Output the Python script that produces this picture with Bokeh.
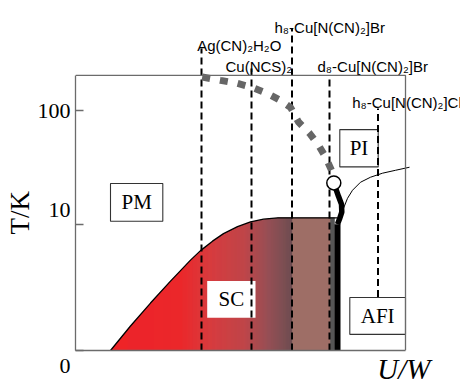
import math
import numpy as np
from bokeh.plotting import figure
from bokeh.models import Range1d, FixedTicker, Title
from bokeh.core.properties import value
from bokeh.embed import file_html
from bokeh.resources import INLINE

# ---------------- data (U/W in arbitrary units, T in K on a log scale) ----------------
T_FLOOR = 0.7936          # drawn as the "0" of the temperature axis
T_FRAME_TOP = 202.0
T_CANVAS_TOP = 913.0
UW_FRAME_END = 330.0

y_ticks = [T_FLOOR, 10, 100]
y_tick_labels = ["\n0", "10\n", "100"]

materials = ["Ag(CN)₂H₂O", "Cu(NCS)₂", "h₈-Cu[N(CN)₂]Br", "d₈-Cu[N(CN)₂]Br", "h₈-Cu[N(CN)₂]Cl"]
material_uw = [126, 176, 216.5, 254, 302.5]
material_line_top = [348, 239, 520, 202, 104]
material_line_bottom = [T_FLOOR, T_FLOOR, T_FLOOR, T_FLOOR, 2.33]
material_label_uw = [121.7, 150, 199, 242, 276.7]
material_label_t = [369.6, 243.8, 534, 243.8, 116.7]

# superconducting dome (Tc)
dome_uw = [35, 55, 75, 95, 115, 125, 137, 148, 162, 175, 188, 202, 262]
dome_tc = [T_FLOOR, 1.299, 2.063, 3.211, 4.898, 5.929, 7.177, 8.345, 9.605, 10.58, 11.17, 11.47, 11.47]
sc_gradient_end = 217
sc_band_end = 255
sc_edge_end = 259

# metal-insulator crossover (dotted)
cross_uw = [126.7, 145, 161.7, 176.7, 191.7, 205, 215, 223, 234, 243, 250, 256, 258.3]
cross_t = [195.4, 182.8, 172.1, 158.8, 140.8, 122.3, 106.2, 79.1, 63.0, 49.5, 39.1, 29.9, 23.2]

# first-order Mott transition line
mott_uw = [258.3, 263, 266, 266.3, 264, 262]
mott_t = [23.2, 17.7, 15.1, 12.9, 11.2, 10.1]
mott_vertical_uw = 262
mott_vertical_bottom = 0.77

# critical end point
cep_uw = [258.3]
cep_t = [23.2]

# Neel line
neel_uw = [264, 268, 272, 277, 285, 295, 307, 320, 334]
neel_t = [10.5, 13.9, 17.0, 20.0, 23.5, 26.0, 28.2, 29.9, 31.8]

# phase boxes
phase_names = ["PM", "SC", "PI", "AFI"]
box_left = [35, 131.7, 264.3, 274.3]
box_right = [87.3, 180, 302.7, 330]
box_bottom = [10.7, 1.535, 32.0, 1.099]
box_top = [22.9, 3.21, 67.8, 2.31]
box_border = ["#333333", None, "#333333", "#333333"]

# gradient colour stops of the SC region
grad_stop_uw = [35, 105, 135, 170, 193, 217]
grad_stop_rgb = [(238, 34, 39), (236, 38, 41), (215, 58, 61), (190, 68, 72), (150, 78, 84), (108, 76, 80)]
sc_band_color = "#9E6E66"
sc_edge_color = "#555555"

SERIF = "Liberation Serif"
SANS = "Liberation Sans"
FRAME = "#6b6b6b"

# ---------------- figure ----------------
p = figure(width=460, height=385, x_range=Range1d(0, 385),
           y_range=Range1d(T_FLOOR, T_CANVAS_TOP), y_axis_type="log",
           output_backend="svg", toolbar_location=None,
           min_border_left=75, min_border_right=0, min_border_top=0, min_border_bottom=35)
p.grid.visible = False
p.outline_line_color = None
p.background_fill_color = "white"
p.border_fill_color = "white"

# y axis
p.yaxis.ticker = FixedTicker(ticks=y_ticks)
p.yaxis.major_label_overrides = dict(zip(y_ticks, y_tick_labels))
p.yaxis.bounds = (T_FLOOR, T_FRAME_TOP)
p.yaxis.axis_line_color = FRAME
p.yaxis.axis_line_width = 1.3
p.yaxis.major_tick_line_color = FRAME
p.yaxis.major_tick_line_width = 1.3
p.yaxis.major_tick_in = 8
p.yaxis.major_tick_out = 0
p.yaxis.minor_tick_line_color = None
p.yaxis.major_label_standoff = 5
p.yaxis.major_label_text_font = SERIF
p.yaxis.major_label_text_font_size = "22px"
p.yaxis.major_label_text_color = "black"

# x axis
p.xaxis.ticker = FixedTicker(ticks=[])
p.xaxis.bounds = (0, UW_FRAME_END)
p.xaxis.axis_line_color = FRAME
p.xaxis.axis_line_width = 1.3
p.xaxis.major_tick_in = 0
p.xaxis.major_tick_out = 0
p.xaxis.minor_tick_line_color = None
p.xaxis.major_label_text_font_size = "0px"

# axis titles (as side titles so they can be placed like the original)
p.add_layout(Title(text="T/K", align="left", offset=116, standoff=0, vertical_align="bottom",
                   text_font=SERIF, text_font_size="27px", text_font_style="normal",
                   text_color="black"), "left")
p.add_layout(Title(text="U/W", align="right", offset=30, standoff=0, vertical_align="bottom",
                   text_font=SERIF, text_font_size="29px", text_font_style="italic",
                   text_color="black"), "below")

# SC gradient
edges = np.linspace(grad_stop_uw[0], grad_stop_uw[-1], 2 * (grad_stop_uw[-1] - grad_stop_uw[0]) + 1)
mids = (edges[:-1] + edges[1:]) / 2
cols = []
for m in mids:
    rgb = [int(round(np.interp(m, grad_stop_uw, [c[k] for c in grad_stop_rgb]))) for k in range(3)]
    cols.append("#%02x%02x%02x" % tuple(rgb))
plateau = dome_tc[-1]
p.quad(left=edges[:-1], right=edges[1:], bottom=T_FLOOR, top=plateau,
       fill_color=cols, line_color=cols, line_width=0.6)
p.quad(left=[sc_gradient_end], right=[sc_band_end], bottom=T_FLOOR, top=plateau,
       fill_color=sc_band_color, line_color=sc_band_color, line_width=0.6)
p.quad(left=[sc_band_end], right=[sc_edge_end], bottom=T_FLOOR, top=plateau,
       fill_color=sc_edge_color, line_color=sc_edge_color, line_width=0.6)

# white mask above the dome rise
n_rise = 12
mask_x = dome_uw[:n_rise] + [dome_uw[n_rise - 1], dome_uw[0] - 3, dome_uw[0] - 3]
mask_y = dome_tc[:n_rise] + [plateau * 1.05, plateau * 1.05, T_FLOOR]
p.patch(mask_x, mask_y, fill_color="white", line_color=None)

# dome outline
p.line(dome_uw, dome_tc, line_color="black", line_width=1.3)

# phase boxes
p.quad(left=box_left, right=box_right, bottom=box_bottom, top=box_top,
       fill_color="white", line_color=box_border, line_width=1.1)
box_cx = [(a + b) / 2 for a, b in zip(box_left, box_right)]
box_cy = [math.sqrt(a * b) for a, b in zip(box_bottom, box_top)]
p.text(x=box_cx, y=box_cy, text=phase_names, text_font=value(SERIF), text_font_size="21px",
       text_align="center", text_baseline="middle", text_color="black")

# material dashed lines and labels
p.segment(x0=material_uw, y0=material_line_bottom, x1=material_uw, y1=material_line_top,
          line_color="black", line_width=2, line_dash="7 4")
p.text(x=material_label_uw, y=material_label_t, text=materials, text_font=value(SANS),
       text_font_size="15px", text_align="left", text_baseline="alphabetic", text_color="black")

# crossover (dotted)
p.line(cross_uw, cross_t, line_color="#666666", line_width=7, line_dash="8 10")

# first-order line
p.line(mott_uw, mott_t, line_color="black", line_width=5.5)
p.segment(x0=[mott_vertical_uw], y0=[mott_t[-1]], x1=[mott_vertical_uw], y1=[mott_vertical_bottom],
          line_color="black", line_width=6)

# Neel line
p.line(neel_uw, neel_t, line_color="black", line_width=1)

# critical end point
p.scatter(cep_uw, cep_t, size=14, fill_color="white", line_color="black", line_width=1.5)

# frame top and right
p.line([0, UW_FRAME_END, UW_FRAME_END], [T_FRAME_TOP, T_FRAME_TOP, T_FLOOR],
       line_color=FRAME, line_width=1.3)

open("out.html", "w").write(file_html(p, INLINE))
